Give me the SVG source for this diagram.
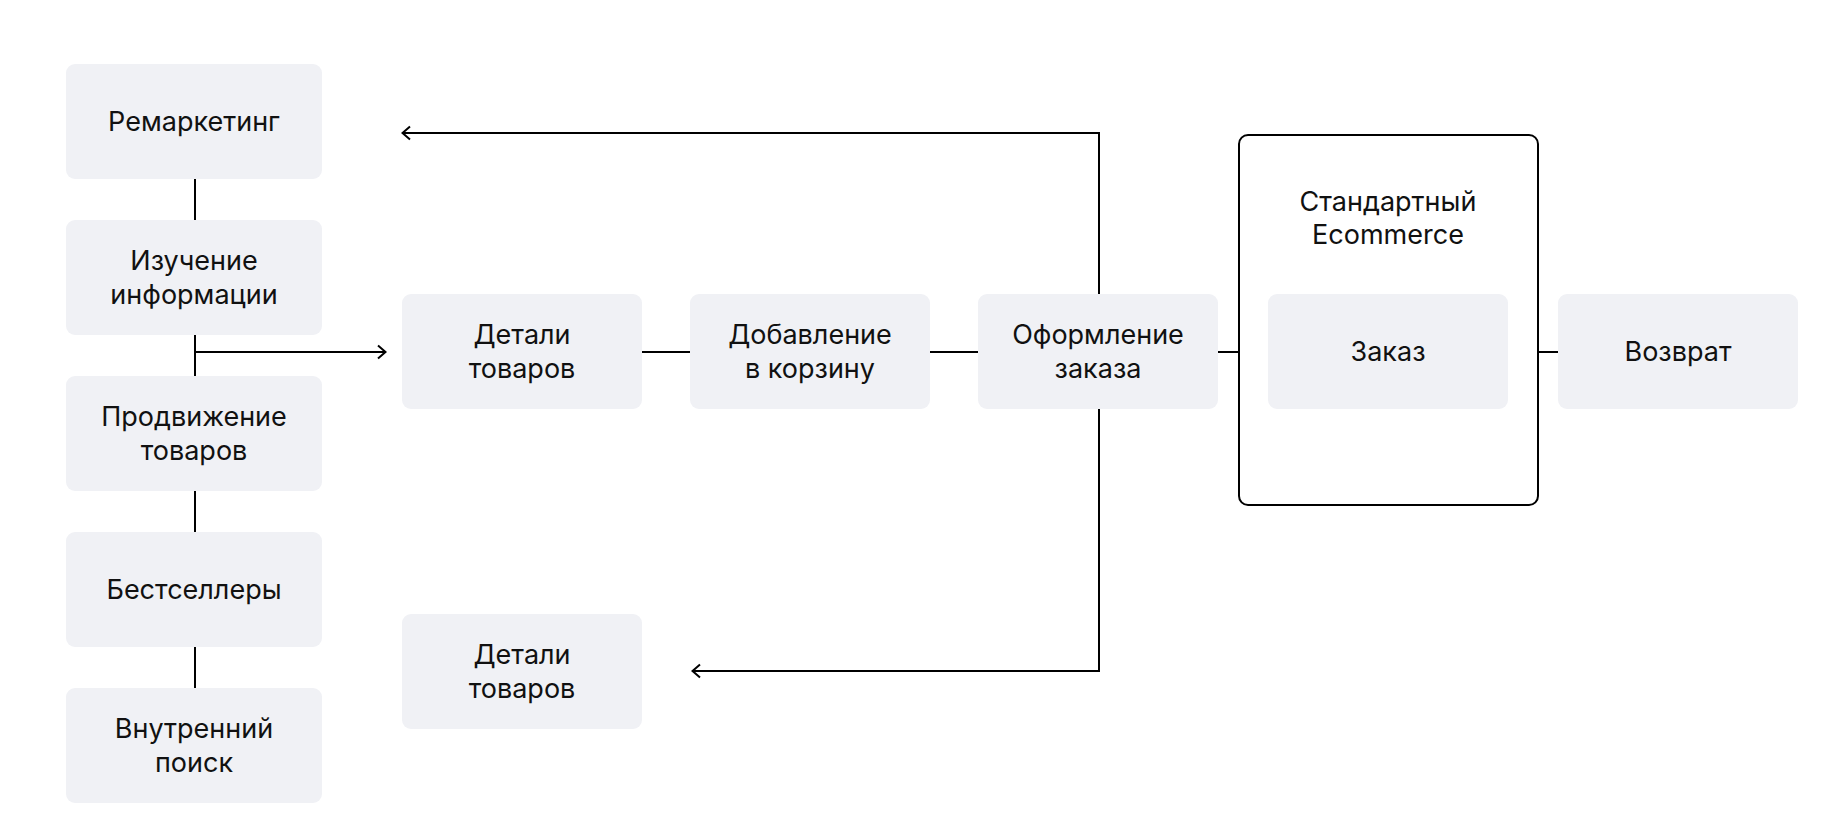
<svg xmlns="http://www.w3.org/2000/svg" width="1844" height="836" viewBox="0 0 1844 836">
<style>
.box{fill:#f0f1f5}
.t{font-family:Inter,"Noto Sans","Liberation Sans",sans-serif;font-size:27px;fill:#111;text-anchor:middle}
.ln{stroke:#000;stroke-width:2;fill:none}
</style>
<defs>
<marker id="ah" viewBox="0 0 12 16" refX="11" refY="8" markerWidth="12" markerHeight="16" markerUnits="userSpaceOnUse" orient="auto">
<path d="M3,1.5 L10.5,8 L3,14.5" fill="none" stroke="#000" stroke-width="2"/>
</marker>
</defs>
<rect width="1844" height="836" fill="#fff"/>
<g id="connectors">
<line class="ln" x1="195" y1="179" x2="195" y2="220"/>
<line class="ln" x1="195" y1="335" x2="195" y2="376"/>
<line class="ln" x1="195" y1="491" x2="195" y2="532"/>
<line class="ln" x1="195" y1="647" x2="195" y2="688"/>
<line class="ln" x1="195" y1="352" x2="386" y2="352" marker-end="url(#ah)"/>
<line class="ln" x1="642" y1="352" x2="690" y2="352"/>
<line class="ln" x1="930" y1="352" x2="978" y2="352"/>
<line class="ln" x1="1218" y1="352" x2="1239" y2="352"/>
<line class="ln" x1="1538" y1="352" x2="1558" y2="352"/>
<polyline class="ln" points="1099,294 1099,133 402,133" marker-end="url(#ah)"/>
<polyline class="ln" points="1099,409 1099,671 692,671" marker-end="url(#ah)"/>
</g>
<g id="n-remarketing"><rect class="box" x="66" y="64" width="256" height="115" rx="9"/><text class="t" x="194" y="131">Ремаркетинг</text></g>
<g id="n-izuchenie"><rect class="box" x="66" y="220" width="256" height="115" rx="9"/><text class="t" x="194" y="270">Изучение</text><text class="t" x="194" y="304">информации</text></g>
<g id="n-prodvizhenie"><rect class="box" x="66" y="376" width="256" height="115" rx="9"/><text class="t" x="194" y="426">Продвижение</text><text class="t" x="194" y="460">товаров</text></g>
<g id="n-bestsellery"><rect class="box" x="66" y="532" width="256" height="115" rx="9"/><text class="t" x="194" y="599">Бестселлеры</text></g>
<g id="n-poisk"><rect class="box" x="66" y="688" width="256" height="115" rx="9"/><text class="t" x="194" y="738">Внутренний</text><text class="t" x="194" y="772">поиск</text></g>
<g id="n-detali1"><rect class="box" x="402" y="294" width="240" height="115" rx="9"/><text class="t" x="522" y="344">Детали</text><text class="t" x="522" y="378">товаров</text></g>
<g id="n-dobavlenie"><rect class="box" x="690" y="294" width="240" height="115" rx="9"/><text class="t" x="810" y="344">Добавление</text><text class="t" x="810" y="378">в корзину</text></g>
<g id="n-oformlenie"><rect class="box" x="978" y="294" width="240" height="115" rx="9"/><text class="t" x="1098" y="344">Оформление</text><text class="t" x="1098" y="378">заказа</text></g>
<g id="n-ecommerce"><rect x="1239" y="135" width="299" height="370" rx="9" fill="none" stroke="#000" stroke-width="2"/><text class="t" x="1388" y="211">Стандартный</text><text class="t" x="1388" y="244">Ecommerce</text></g>
<g id="n-zakaz"><rect class="box" x="1268" y="294" width="240" height="115" rx="9"/><text class="t" x="1388" y="361">Заказ</text></g>
<g id="n-vozvrat"><rect class="box" x="1558" y="294" width="240" height="115" rx="9"/><text class="t" x="1678" y="361">Возврат</text></g>
<g id="n-detali2"><rect class="box" x="402" y="614" width="240" height="115" rx="9"/><text class="t" x="522" y="664">Детали</text><text class="t" x="522" y="698">товаров</text></g>
</svg>
